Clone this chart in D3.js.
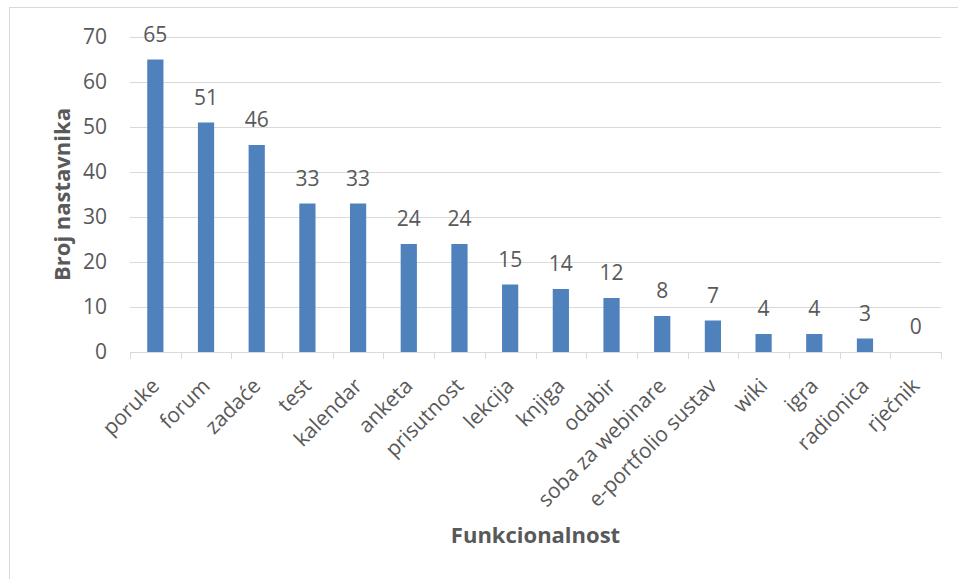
<!DOCTYPE html>
<html>
<head>
<meta charset="utf-8">
<script src="https://cdn.jsdelivr.net/npm/d3@7"></script>
<style>
  body { margin: 0; background: #fff; }
  text { font-family: "Open Sans", sans-serif; fill: #595959; }
</style>
</head>
<body>
<svg id="chart" width="958" height="579"></svg>
<script>
// data
var categories = ["poruke", "forum", "zadaće", "test", "kalendar", "anketa", "prisutnost",
  "lekcija", "knjiga", "odabir", "soba za webinare", "e-portfolio sustav", "wiki", "igra",
  "radionica", "rječnik"];
var values = [65, 51, 46, 33, 33, 24, 24, 15, 14, 12, 8, 7, 4, 4, 3, 0];
var yTicks = [0, 10, 20, 30, 40, 50, 60, 70];

var svg = d3.select("#chart");

// outer frame (cut off at right and bottom like the original)
svg.append("rect")
  .attr("x", 9.5).attr("y", 7.5)
  .attr("width", 1000).attr("height", 1000)
  .attr("fill", "none")
  .attr("stroke", "#d9d9d9");

var pLeft = 130, pRight = 941, pTop = 37, pBottom = 352;

var x = d3.scaleBand()
  .domain(categories)
  .range([pLeft, pRight])
  .paddingInner(0.68)
  .paddingOuter(0.34);

var xb = d3.scaleBand().domain(categories).range([pLeft, pRight]);

var y = d3.scaleLinear()
  .domain([0, 70])
  .range([pBottom, pTop]);

// gridlines
svg.append("g")
  .selectAll("line")
  .data(yTicks.slice(1))
  .enter()
  .append("line")
    .attr("x1", pLeft).attr("x2", pRight)
    .attr("y1", function(d) { return Math.round(y(d)) + 0.5; })
    .attr("y2", function(d) { return Math.round(y(d)) + 0.5; })
    .attr("stroke", "#d9d9d9");

// y labels
svg.append("g")
  .selectAll("text")
  .data(yTicks)
  .enter()
  .append("text")
    .attr("x", 107)
    .attr("y", function(d) { return y(d); })
    .attr("dy", "0.35em")
    .attr("text-anchor", "end")
    .style("font-size", "21px")
    .text(function(d) { return d; });

// bars
svg.append("g")
  .selectAll("rect")
  .data(values)
  .enter()
  .append("rect")
    .attr("x", function(d, i) { return x(categories[i]); })
    .attr("y", function(d) { return y(d); })
    .attr("width", x.bandwidth())
    .attr("height", function(d) { return y(0) - y(d); })
    .attr("fill", "#4f81bd");

// x axis line + ticks
var axis = svg.append("g");
axis.append("line")
  .attr("x1", pLeft).attr("x2", pRight)
  .attr("y1", pBottom + 0.5).attr("y2", pBottom + 0.5)
  .attr("stroke", "#d9d9d9");
axis.selectAll("line.tick")
  .data(categories.concat(["end"]))
  .enter()
  .append("line")
    .attr("class", "tick")
    .attr("x1", function(d, i) { return Math.round(pLeft + i * xb.bandwidth()) + 0.5; })
    .attr("x2", function(d, i) { return Math.round(pLeft + i * xb.bandwidth()) + 0.5; })
    .attr("y1", pBottom).attr("y2", pBottom + 7)
    .attr("stroke", "#d9d9d9");

// value labels
svg.append("g")
  .selectAll("text")
  .data(values)
  .enter()
  .append("text")
    .attr("x", function(d, i) { return x(categories[i]) + x.bandwidth() / 2; })
    .attr("y", function(d) { return y(d) - 18; })
    .attr("text-anchor", "middle")
    .style("font-size", "21px")
    .text(function(d) { return d; });

// category labels
svg.append("g")
  .selectAll("text")
  .data(categories)
  .enter()
  .append("text")
    .attr("transform", function(d) {
      return "translate(" + (xb(d) + xb.bandwidth() / 2) + "," + 382 + ") rotate(-45)";
    })
    .attr("dy", "0.35em")
    .attr("text-anchor", "end")
    .style("font-size", "21px")
    .text(function(d) { return d; });

// axis titles
svg.append("text")
  .attr("transform", "translate(62," + (pTop + pBottom) / 2 + ") rotate(-90)")
  .attr("dy", "0.35em")
  .attr("text-anchor", "middle")
  .style("font-size", "22px")
  .style("font-weight", "bold")
  .text("Broj nastavnika");

svg.append("text")
  .attr("x", (pLeft + pRight) / 2)
  .attr("y", 543)
  .attr("text-anchor", "middle")
  .style("font-size", "22px")
  .style("font-weight", "bold")
  .text("Funkcionalnost");
</script>
</body>
</html>
